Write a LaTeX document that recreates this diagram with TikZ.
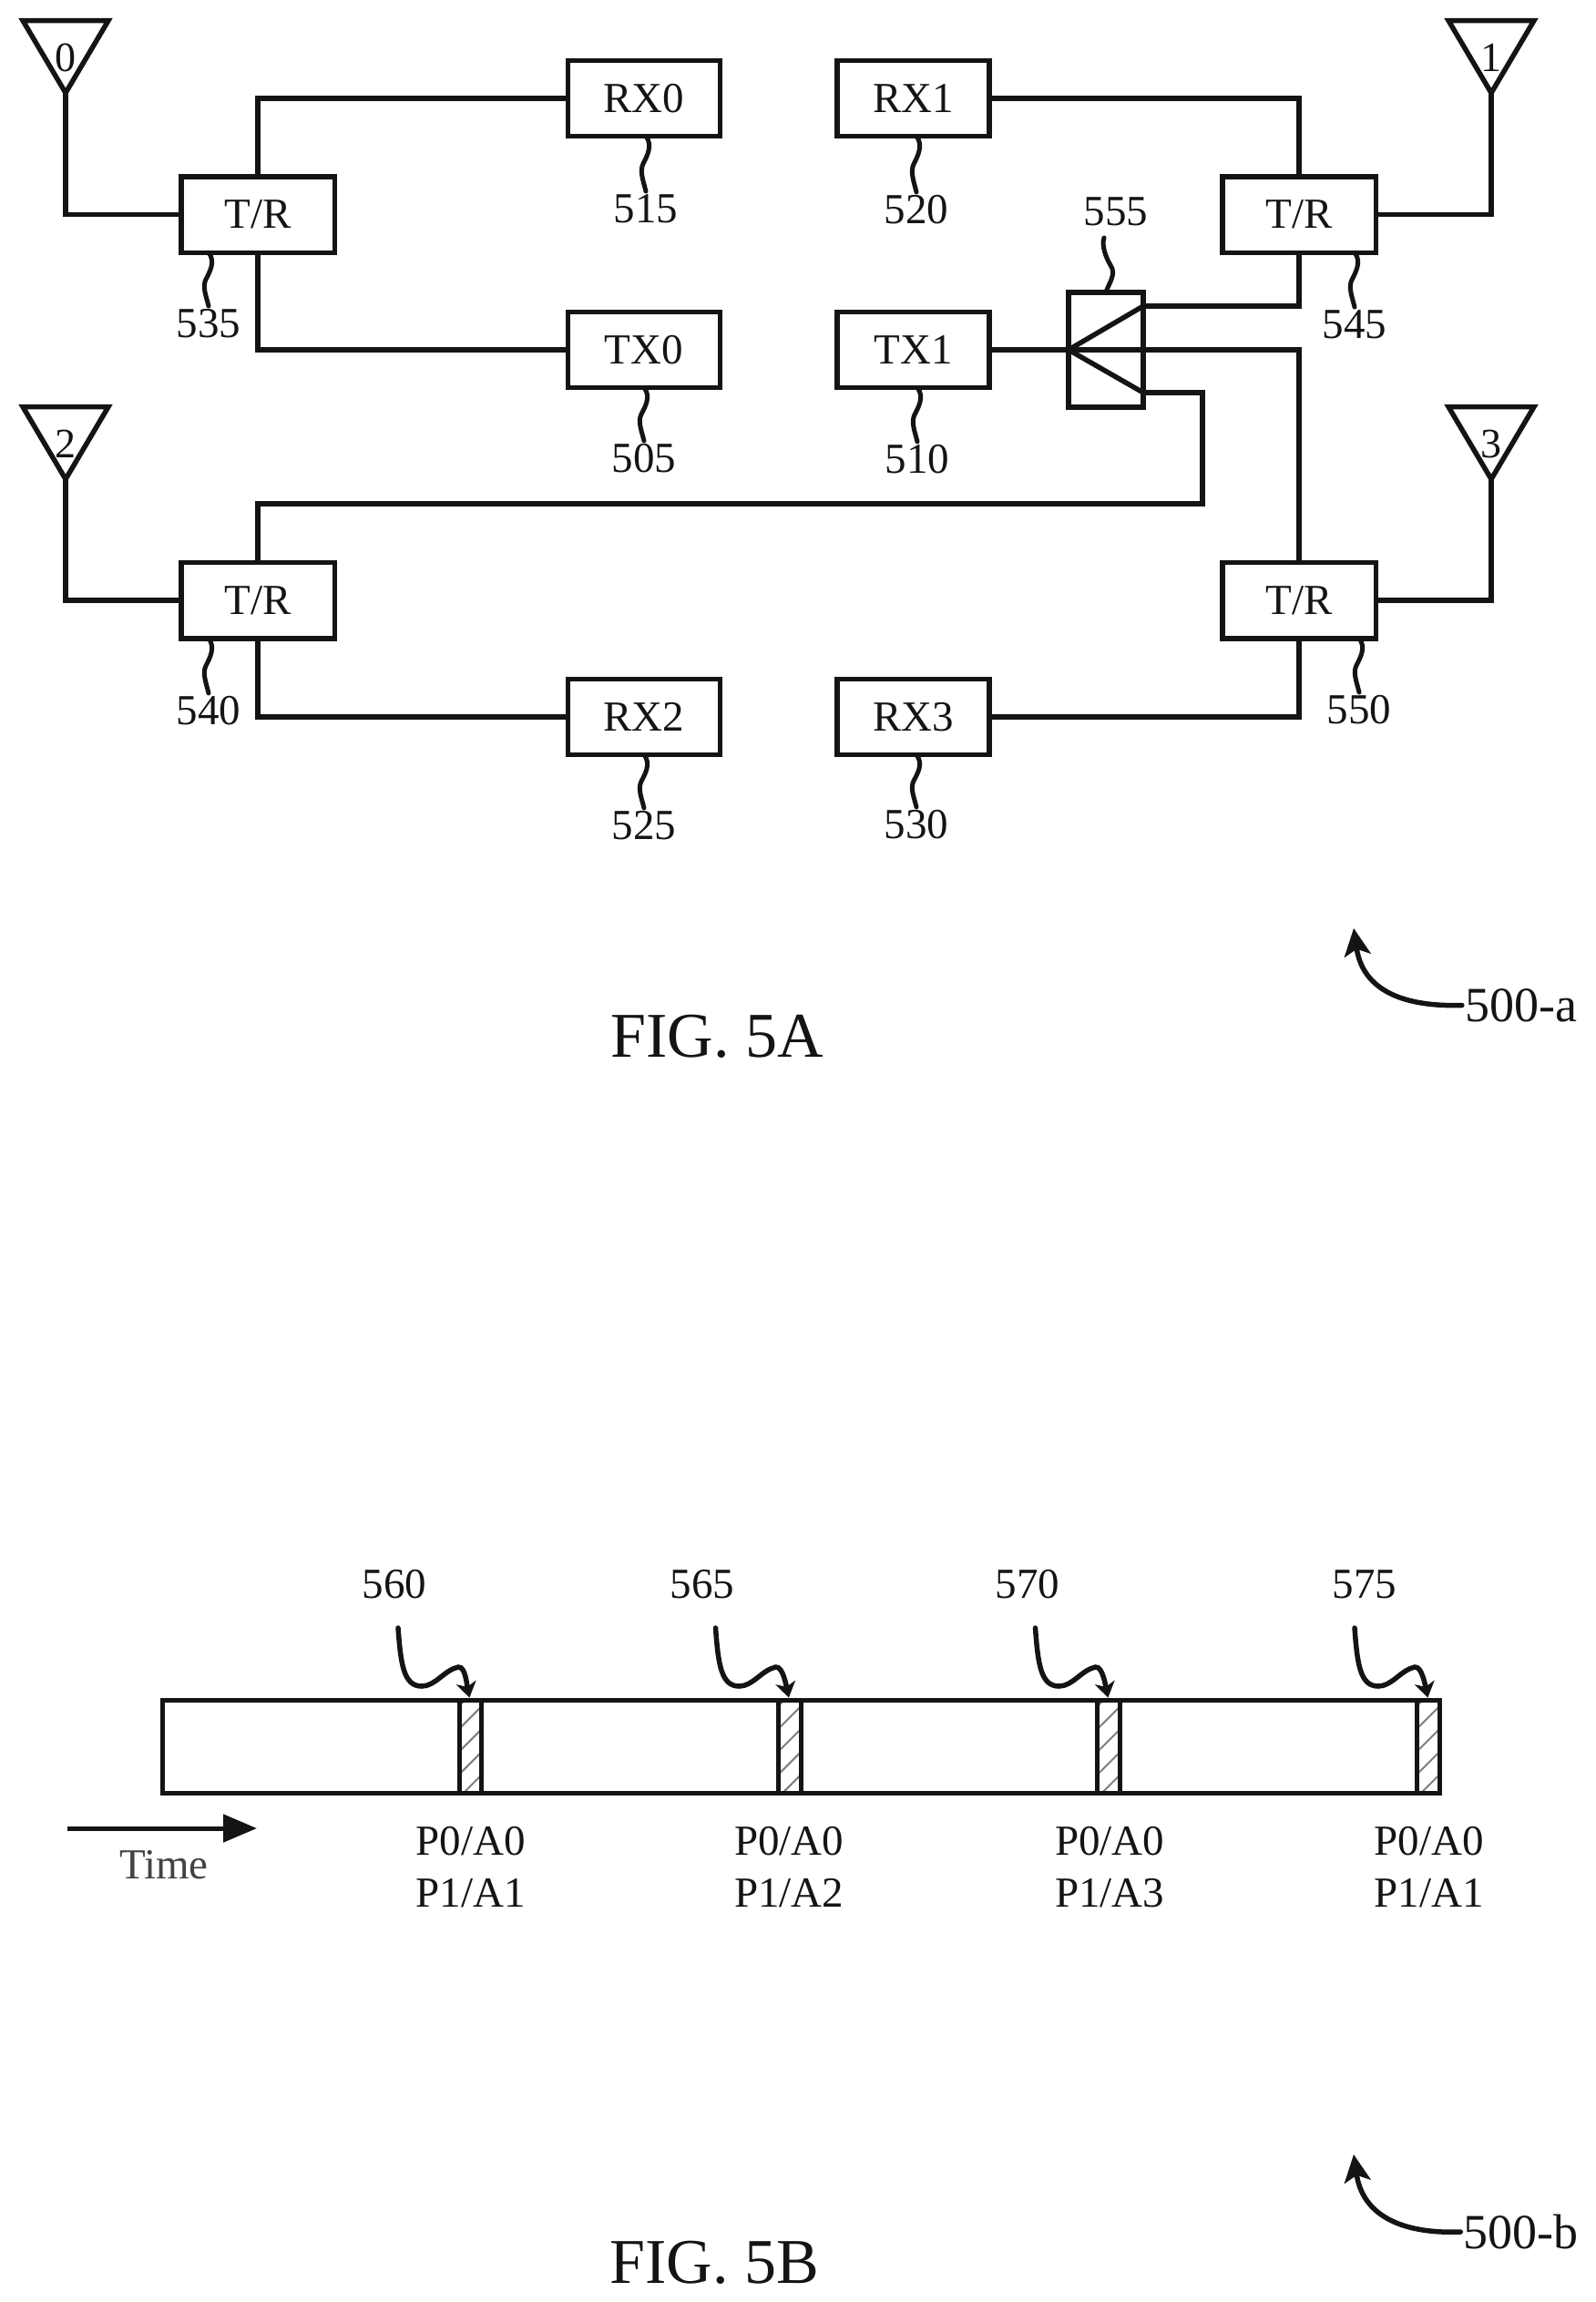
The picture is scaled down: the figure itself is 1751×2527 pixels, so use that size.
\documentclass[tikz,border=0pt]{standalone}
\usepackage{fontspec}
\setmainfont{Liberation Serif}
\usetikzlibrary{calc,arrows.meta,patterns.meta}
\definecolor{ink}{gray}{0.08}
\tikzset{
  wire/.style={draw=ink,line width=5.5pt,line join=miter},
  lead/.style={draw=ink,line width=5pt,line cap=round},
  bx/.style={draw=ink,line width=5.5pt,minimum width=167pt,minimum height=83pt,inner sep=0pt,outer sep=0pt,
    text=ink,font=\fontsize{47}{50}\selectfont},
  tr/.style={bx,minimum width=168.5pt,minimum height=83.5pt},
  lbl/.style={text=ink,font=\fontsize{47}{50}\selectfont,inner sep=3pt},
  ant/.style={text=ink,font=\fontsize{46}{48}\selectfont,inner sep=0pt},
  figl/.style={text=ink,font=\fontsize{70}{72}\selectfont,inner sep=0pt},
  slotbox/.style={draw=ink,line width=5pt,minimum height=101.8pt,inner sep=0pt,outer sep=0pt,
    pattern={Lines[angle=45,distance=17.7pt,line width=2pt]},pattern color=ink!55},
  ptr/.style={draw=ink,line width=5.5pt,line cap=round,shorten >=3pt,-{Stealth[length=17pt,width=22pt,inset=5pt]}},
  bigptr/.style={draw=ink,line width=5.5pt,line cap=round,-{Stealth[length=30pt,width=29pt,inset=7pt]}},
}
\newcommand{\leadline}[2]{%
  \coordinate (tmpa) at (#2.north |- #1.south);
  \draw[lead] (tmpa) .. controls +(8,10) and +(4,-8) .. ($(tmpa)!.5!(#2.north)+(-3,0)$)
    .. controls +(-4,8) and +(-3,-12) .. (#2.north);}
\newcommand{\antenna}[4]{% name, apex x, apex y, digit
  \coordinate (#1) at (#2,#3);
  \draw[wire] (#1) -- ++(-47,-79.5) -- ++(94,0) -- cycle;
  \node[ant] (d#1) at ($(#1)+(0,-38.7)$) {#4};}
\newcommand{\slotptr}[2]{% start coordinate, slot
  \draw[ptr] (#1) .. controls +(3,40) and +(-20,0) .. ++(26,64)
    .. controls +(15,0) and +(-15,3) .. ++(40,-21)
    .. controls +(8,-1.5) and +(-3,-14) .. (#2.north);}
\begin{document}
\begin{tikzpicture}[x=1pt,y=-1pt]
\useasboundingbox (0,0) rectangle (1751,2527);
\fill[white] (0,0) rectangle (1751,2527);
% boxes
\node[bx] (rx0) at (707,108) {RX0};
\node[bx] (tx0) at (707,384) {TX0};
\node[bx] (rx2) at (707,787) {RX2};
\node[bx] (rx1) at (1002.5,108) {RX1};
\node[bx] (tx1) at (1002.5,384) {TX1};
\node[bx] (rx3) at (1002.5,787) {RX3};
\node[tr] (tr0) at (283,235.5) {T/R};
\node[tr] (tr2) at (283,659) {T/R};
\node[tr] (tr1) at (1426,235.5) {T/R};
\node[tr] (tr3) at (1426,659) {T/R};
\node[bx,minimum width=82pt,minimum height=126pt] (s555) at (1214,384) {};
% antennas
\antenna{a0}{72}{102}{0}
\antenna{a1}{1637}{102}{1}
\antenna{a2}{72}{526}{2}
\antenna{a3}{1637}{526}{3}
\draw[wire] (a0) |- (tr0.west);
\draw[wire] (a2) |- (tr2.west);
\draw[wire] (a1) |- (tr1.east);
\draw[wire] (a3) |- (tr3.east);
% wires
\draw[wire] (tr0.north) |- (rx0.west);
\draw[wire] (tr0.south) |- (tx0.west);
\draw[wire] (tr2.south) |- (rx2.west);
\draw[wire] (tr1.north) |- (rx1.east);
\draw[wire] (tr3.south) |- (rx3.east);
\draw[wire] (tx1.east) -| (tr3.north);
\coordinate (su) at ($(s555.east)+(0,-48)$);
\coordinate (sl) at ($(s555.east)+(0,47)$);
\coordinate (bend) at (1320,553);
\draw[wire] (s555.west) -- (su);
\draw[wire] (s555.west) -- (sl);
\draw[wire] (su) -| (tr1.south);
\draw[wire] (sl) -| (bend) -| (tr2.north);
% reference labels
\node[lbl] (l515) at (709,229) {515};
\node[lbl] (l505) at (707,503) {505};
\node[lbl] (l525) at (707,906) {525};
\node[lbl] (l535) at (229,355) {535};
\node[lbl] (l540) at (229,780) {540};
\node[lbl] (l520) at (1006,230) {520};
\node[lbl] (l510) at (1007,504) {510};
\node[lbl] (l530) at (1006,905) {530};
\node[lbl] (l545) at (1487,356) {545};
\node[lbl] (l550) at (1492,779) {550};
\node[lbl] (l555) at (1225,232) {555};
\leadline{rx0}{l515}
\leadline{tx0}{l505}
\leadline{rx2}{l525}
\leadline{tr0}{l535}
\leadline{tr2}{l540}
\leadline{rx1}{l520}
\leadline{tx1}{l510}
\leadline{rx3}{l530}
\leadline{tr1}{l545}
\leadline{tr3}{l550}
\coordinate (t555) at (1212,261);
\draw[lead] (s555.north) .. controls +(3,-10) and +(7,10) .. (1219,291)
  .. controls +(-5,-8) and +(-3,8) .. (t555);
% FIG 5A
\node[figl] (f5a) at (787,1138) {FIG. 5A};
\node[lbl,font=\fontsize{54}{56}\selectfont] (l500a) at (1669.5,1103.5) {500-a};
\coordinate (tipa) at (1486,1019);
\draw[bigptr] (l500a.west) .. controls (1555,1105) and (1497,1095) .. (tipa);
% timeline
\node[draw=ink,line width=5pt,minimum width=1401.5pt,minimum height=101.8pt,inner sep=0pt,outer sep=0pt] (bar) at (879.5,1917.4) {};
\node[slotbox,minimum width=24pt] (slot1) at (516,1917.4) {};
\node[slotbox,minimum width=25pt] (slot2) at (866.5,1917.4) {};
\node[slotbox,minimum width=24.5pt] (slot3) at (1217,1917.4) {};
\node[slotbox,minimum width=24.5pt] (slot4) at (1568,1917.4) {};
\node[lbl] (l560) at (433,1739) {560};
\node[lbl] (l565) at (771,1739) {565};
\node[lbl] (l570) at (1128,1739) {570};
\node[lbl] (l575) at (1498,1739) {575};
\coordinate (p1) at (437,1787);
\coordinate (p2) at (785.5,1787);
\coordinate (p3) at (1136.5,1787);
\coordinate (p4) at (1487,1787);
\slotptr{p1}{slot1}
\slotptr{p2}{slot2}
\slotptr{p3}{slot3}
\slotptr{p4}{slot4}
\node[lbl,anchor=west,inner sep=0pt] (a1) at (456.5,2021) {P0/A0};
\node[lbl,anchor=west,inner sep=0pt] (b1) at (456.5,2078) {P1/A1};
\node[lbl,anchor=west,inner sep=0pt] (a2t) at (806,2021) {P0/A0};
\node[lbl,anchor=west,inner sep=0pt] (b2) at (806,2078) {P1/A2};
\node[lbl,anchor=west,inner sep=0pt] (a3t) at (1158,2021) {P0/A0};
\node[lbl,anchor=west,inner sep=0pt] (b3) at (1158,2078) {P1/A3};
\node[lbl,anchor=west,inner sep=0pt] (a4t) at (1508.5,2021) {P0/A0};
\node[lbl,anchor=west,inner sep=0pt] (b4) at (1508.5,2078) {P1/A1};
% time arrow
\coordinate (t0) at (74,2007);
\coordinate (t1) at (282,2007);
\draw[draw=ink,line width=5pt,-{Triangle[length=37pt,width=30pt,fill=ink]}] (t0) -- (t1);
\node[lbl,text=ink!80] (time) at (180,2047) {Time};
% FIG 5B
\node[figl] (f5b) at (784,2484) {FIG. 5B};
\node[lbl,font=\fontsize{54}{56}\selectfont] (l500b) at (1669.5,2450) {500-b};
\coordinate (tipb) at (1486,2365);
\draw[bigptr] (l500b.west) .. controls (1555,2452) and (1497,2441) .. (tipb);
\end{tikzpicture}
\end{document}
